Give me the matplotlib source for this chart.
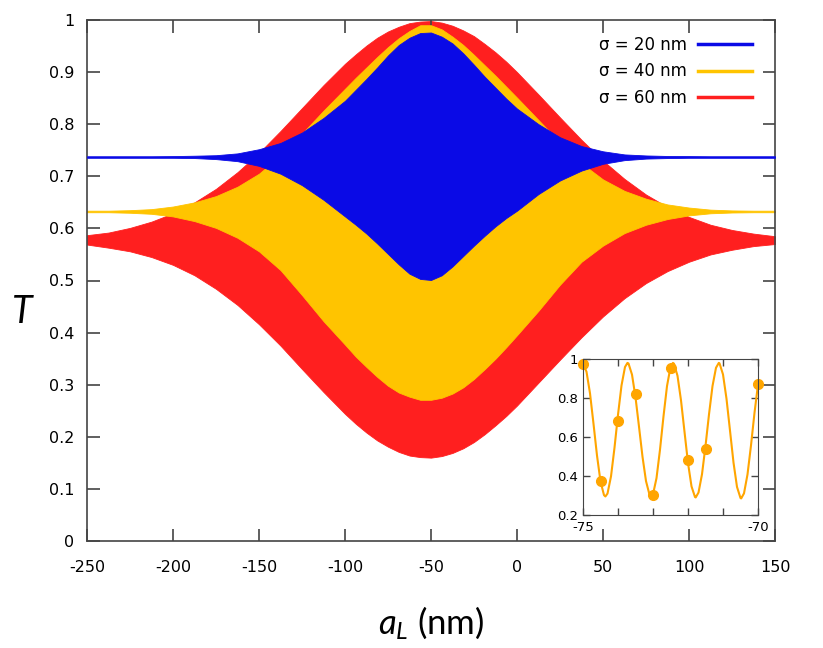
import matplotlib
matplotlib.use('Agg')
import matplotlib.pyplot as plt
from matplotlib.lines import Line2D

# envelopes of the fast oscillations (a_L in nm)
a_grid = [-250, -237.5, -225, -212.5, -200, -187.5, -175, -162.5, -150, -137.5,
          -125, -112.5, -100, -93.75, -87.5, -81.25, -75, -68.75, -62.5, -56.25,
          -50, -43.75, -37.5, -31.25, -25, -18.75, -12.5, -6.25, 0,
          12.5, 25, 37.5, 50, 62.5, 75, 87.5, 100, 112.5, 125, 137.5, 150]

s20_upper = [.7385, .7385, .7385, .7385, .7388, .7395, .7405, .744, .752, .764,
             .784, .812, .845, .866, .887, .909, .932, .952, .966, .975,
             .976, .968, .955, .936, .914, .891, .870, .849, .830,
             .800, .775, .758, .748, .742, .740, .739, .7388, .7385, .7385, .7385, .7385]
s20_lower = [.7355, .7355, .7355, .7355, .7355, .735, .733, .729, .720, .705,
             .683, .655, .623, .607, .590, .571, .551, .531, .513, .503,
             .501, .510, .527, .547, .567, .586, .604, .620, .634,
             .666, .692, .711, .724, .731, .734, .735, .7355, .7355, .7355, .7355, .7355]

s40_upper = [.634, .634, .635, .637, .642, .650, .662, .680, .705, .740,
             .782, .826, .868, .889, .909, .929, .948, .965, .979, .990,
             .990, .982, .968, .952, .933, .913, .893, .872, .851,
             .808, .765, .725, .694, .672, .657, .646, .640, .636, .6345, .634, .634]
s40_lower = [.631, .631, .630, .628, .623, .614, .601, .582, .556, .520,
             .472, .422, .377, .354, .334, .315, .298, .285, .277, .271,
             .271, .275, .283, .295, .311, .330, .350, .372, .395,
             .442, .492, .536, .567, .591, .607, .618, .625, .629, .6305, .631, .631]

s60_upper = [.587, .592, .601, .613, .629, .650, .676, .708, .745, .787,
             .831, .875, .916, .934, .951, .966, .978, .987, .994, .997,
             .998, .995, .989, .980, .969, .954, .938, .920, .900,
             .857, .813, .770, .730, .695, .665, .641, .622, .607, .597, .590, .585]
s60_lower = [.569, .563, .556, .545, .530, .510, .484, .453, .416, .375,
             .330, .286, .244, .225, .208, .193, .181, .171, .164, .161,
             .160, .163, .169, .178, .190, .205, .222, .240, .260,
             .304, .348, .391, .431, .466, .495, .518, .536, .550, .559, .566, .570]

labels = ['σ = 20 nm', 'σ = 40 nm', 'σ = 60 nm']
colors = ['#0a0ae6', '#ffc400', '#ff1f1f']

# inset: zoom of the sigma = 40 nm curve
inset_x = [-75.0, -74.9, -74.8, -74.7, -74.6, -74.5, -74.4, -74.36, -74.3, -74.2,
           -74.1, -74.0, -73.9, -73.8, -73.73, -73.7, -73.6, -73.5, -73.4, -73.3,
           -73.2, -73.1, -73.05, -73.0, -72.9, -72.8, -72.7, -72.6, -72.5, -72.43,
           -72.4, -72.3, -72.2, -72.1, -72.0, -71.9, -71.8, -71.78, -71.7, -71.6,
           -71.5, -71.4, -71.3, -71.2, -71.12, -71.1, -71.0, -70.9, -70.8, -70.7,
           -70.6, -70.5, -70.48, -70.4, -70.3, -70.2, -70.1, -70.0]
inset_t = [.975, .935, .824, .668, .505, .372, .302, .295, .310, .398,
           .545, .714, .864, .959, .980, .977, .920, .804, .653, .499,
           .374, .304, .295, .306, .389, .535, .706, .861, .959, .980,
           .976, .914, .788, .627, .467, .347, .292, .290, .315, .409,
           .554, .716, .861, .955, .980, .978, .921, .796, .633, .469,
           .344, .287, .285, .311, .408, .557, .724, .869]
dots_x = [-75.0, -74.5, -74.0, -73.5, -73.0, -72.5, -72.0, -71.5, -70.0]
dots_t = [.975, .375, .684, .819, .303, .952, .484, .541, .871]

plt.rcParams['mathtext.fontset'] = 'custom'
plt.rcParams['mathtext.rm'] = 'Lato'
plt.rcParams['mathtext.it'] = 'Lato:italic'
plt.rcParams['axes.unicode_minus'] = False

fig = plt.figure(figsize=(8.23, 6.48), dpi=100)
ax = fig.add_axes([87 / 823, 1 - 541 / 648, 688 / 823, 521 / 648])

ax.fill_between(a_grid, s60_lower, s60_upper, color=colors[2], lw=0.6, zorder=1)
ax.fill_between(a_grid, s40_lower, s40_upper, color=colors[1], lw=0.6, zorder=2)
ax.fill_between(a_grid, s20_lower, s20_upper, color=colors[0], lw=0.6, zorder=3)

ax.set_xlim(-250, 150)
ax.set_ylim(0, 1)
ax.set_xticks([-250, -200, -150, -100, -50, 0, 50, 100, 150])
ax.set_yticks([0, .1, .2, .3, .4, .5, .6, .7, .8, .9, 1])
ax.set_yticklabels(['0', '0.1', '0.2', '0.3', '0.4', '0.5', '0.6', '0.7', '0.8', '0.9', '1'])
ax.tick_params(direction='in', length=9, width=1.2, color='#444444', labelsize=11.5,
               top=True, right=True, pad=9)
ax.tick_params(axis='x', pad=14)
for sp in ax.spines.values():
    sp.set_color('#444444')
    sp.set_linewidth(1.2)

ax.set_xlabel(r'$a_L$ (nm)', fontsize=25, family='Lato', va='center')
ax.xaxis.set_label_coords(0.5, -0.157)
ax.set_ylabel('T', fontsize=27, family='Lato', fontstyle='italic', rotation=0,
              va='center', ha='center')
ax.yaxis.set_label_coords(-0.094, 0.44)

handles = [Line2D([], [], color=c, lw=2.5) for c in colors]
ax.legend(handles, labels, loc='upper right', frameon=False, markerfirst=False,
          fontsize=12, handlelength=3.2, handletextpad=0.7, labelspacing=0.5,
          borderaxespad=0, bbox_to_anchor=(0.976, 0.982))

axin = fig.add_axes([583 / 823, 1 - 515 / 648, 175 / 823, 156 / 648])
axin.plot(inset_x, inset_t, color='#ffa500', lw=1.5)
axin.plot(dots_x, dots_t, 'o', color='#ffa500', ms=7, clip_on=False)
axin.set_xlim(-75, -70)
axin.set_ylim(0.2, 1)
axin.set_xticks([-75, -74, -73, -72, -71, -70])
axin.set_xticklabels(['-75', '', '', '', '', '-70'])
axin.set_yticks([.2, .4, .6, .8, 1])
axin.set_yticklabels(['0.2', '0.4', '0.6', '0.8', '1'])
axin.tick_params(direction='in', length=5, width=1, color='#444444', labelsize=9.5,
                 top=True, right=True)
axin.tick_params(axis='x', pad=4)
for sp in axin.spines.values():
    sp.set_color('#444444')

fig.savefig('out.png', dpi=100)
